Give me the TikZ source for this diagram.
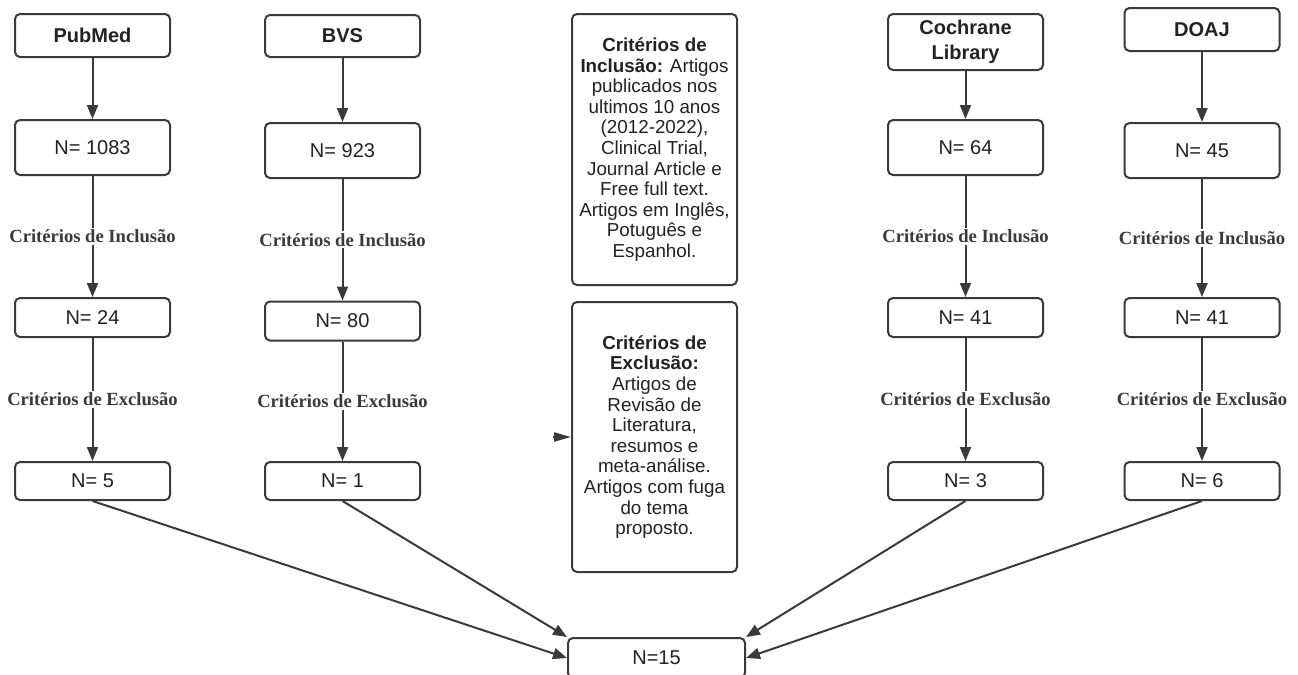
\documentclass[tikz,border=0pt]{standalone}
\usepackage{fontspec}
\setmainfont{Liberation Sans}
\newfontfamily\labelfont{Liberation Serif}
\usetikzlibrary{arrows.meta}
\definecolor{linegray}{HTML}{3A3A3A}
\definecolor{textgray}{HTML}{222222}
\begin{document}
\begin{tikzpicture}[x=0.5pt,y=-0.5pt,
    box/.style={draw=linegray,line width=1pt,rounded corners=2.5pt,minimum width=77.5pt,
      inner sep=0pt,align=center,text=textgray,font=\fontsize{10}{12.5}\selectfont},
    dbbox/.style={box,font=\fontsize{10}{12.5}\selectfont\bfseries},
    critbox/.style={box,minimum width=82.5pt,font=\fontsize{9.4}{10.3}\selectfont},
    critlabel/.style={fill=white,inner sep=1pt,text=linegray,
      font=\labelfont\bfseries\fontsize{9.3}{11}\selectfont},
    flow/.style={draw=linegray,line width=1pt,-{Triangle[length=7pt,width=5.5pt]}}]
      \useasboundingbox (0,0) rectangle (1298,675);
      \node[dbbox,minimum height=21.5pt] (pubmed) at (92.5,35.5) {PubMed};
      \node[box,minimum height=27.5pt] (pubN) at (92.5,147.5) {N= 1083};
      \node[box,minimum height=19.5pt] (pubIn) at (92.5,317.5) {N= 24};
      \node[box,minimum height=19pt] (pubEx) at (92.5,481) {N= 5};
      \node[dbbox,minimum height=21pt] (bvs) at (342.5,36) {BVS};
      \node[box,minimum height=27.5pt] (bvsN) at (342.5,150.5) {N= 923};
      \node[box,minimum height=19.5pt] (bvsIn) at (342.5,321) {N= 80};
      \node[box,minimum height=19pt] (bvsEx) at (342.5,481) {N= 1};
      \node[dbbox,minimum height=28pt] (cochrane) at (965.5,42) {Cochrane\\Library};
      \node[box,minimum height=27.5pt] (cochN) at (965.5,147.5) {N= 64};
      \node[box,minimum height=19.5pt] (cochIn) at (965.5,317.5) {N= 41};
      \node[box,minimum height=19pt] (cochEx) at (965.5,481) {N= 3};
      \node[dbbox,minimum height=21.5pt] (doaj) at (1202,29.5) {DOAJ};
      \node[box,minimum height=27.5pt] (doajN) at (1202,150.5) {N= 45};
      \node[box,minimum height=19.5pt] (doajIn) at (1202,317.5) {N= 41};
      \node[box,minimum height=19pt] (doajEx) at (1202,481) {N= 6};
      \node[critbox,minimum height=135.5pt] (incl) at (654.5,149.5)
        {\textbf{Critérios de}\\\textbf{Inclusão:} Artigos\\publicados nos\\ultimos 10 anos\\(2012-2022),\\Clinical Trial,\\Journal Article e\\Free full text.\\Artigos em Inglês,\\Potuguês e\\Espanhol.};
      \node[critbox,minimum height=135pt] (excl) at (654.5,437)
        {\textbf{Critérios de}\\\textbf{Exclusão:}\\Artigos de\\Revisão de\\Literatura,\\resumos e\\meta-análise.\\Artigos com fuga\\do tema\\proposto.};
      \node[box,minimum width=88.5pt,minimum height=20pt] (total) at (656.5,658) {N=15};
      \coordinate (stub) at (553,437);
      \begin{scope}[flow]
        \draw (pubmed) to (pubN);
        \draw (pubN) to node[critlabel]{Critérios de Inclusão} (pubIn);
        \draw (pubIn) to node[critlabel]{Critérios de Exclusão} (pubEx);
        \draw (bvs) to (bvsN);
        \draw (bvsN) to node[critlabel]{Critérios de Inclusão} (bvsIn);
        \draw (bvsIn) to node[critlabel]{Critérios de Exclusão} (bvsEx);
        \draw (cochrane) to (cochN);
        \draw (cochN) to node[critlabel]{Critérios de Inclusão} (cochIn);
        \draw (cochIn) to node[critlabel]{Critérios de Exclusão} (cochEx);
        \draw (doaj) to (doajN);
        \draw (doajN) to node[critlabel]{Critérios de Inclusão} (doajIn);
        \draw (doajIn) to node[critlabel]{Critérios de Exclusão} (doajEx);
        \draw (pubEx.south) to (total.west);
        \draw (bvsEx.south) to (total.north west);
        \draw (cochEx.south) to (total.north east);
        \draw (doajEx.south) to (total.east);
        \draw[-{Triangle[length=8.5pt,width=4.5pt]}] (stub) to (excl.west);
      \end{scope}
    \end{tikzpicture}
\end{document}
